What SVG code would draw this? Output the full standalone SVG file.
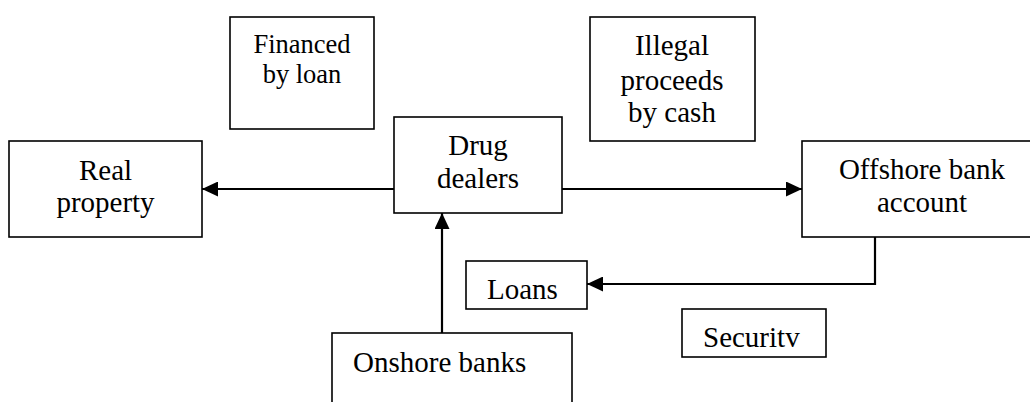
<svg xmlns="http://www.w3.org/2000/svg" width="1030" height="402" viewBox="0 0 1030 402">
<style>
.box{fill:#fff;stroke:#000;stroke-width:1.6}
.t{font-family:"Liberation Serif","Times New Roman",serif;font-size:29px;fill:#000}
.s{font-size:26.5px}
.c{text-anchor:middle}
.ln{fill:none;stroke:#000;stroke-width:2.2}
</style>
<defs>
<marker id="ah" markerUnits="userSpaceOnUse" markerWidth="17" markerHeight="15" refX="16" refY="7.5" orient="auto">
<path d="M0,0 L16,7.5 L0,15 Z" fill="#000"/>
</marker>
</defs>
<rect width="1030" height="402" fill="#fff"/>
<g id="financed">
<rect class="box" x="230" y="17" width="144" height="112"/>
<text class="t s c" x="302" y="53">Financed</text>
<text class="t s c" x="302" y="83">by loan</text>
</g>
<g id="illegal">
<rect class="box" x="590" y="17" width="165" height="124"/>
<text class="t c" x="672" y="55">Illegal</text>
<text class="t c" x="672" y="90">proceeds</text>
<text class="t c" x="672" y="122">by cash</text>
</g>
<g id="real-property">
<rect class="box" x="9" y="141" width="193" height="96"/>
<text class="t c" x="105.5" y="180">Real</text>
<text class="t c" x="105.5" y="212">property</text>
</g>
<g id="drug-dealers">
<rect class="box" x="394" y="117" width="168" height="96"/>
<text class="t c" x="478" y="155">Drug</text>
<text class="t c" x="478" y="188">dealers</text>
</g>
<g id="offshore">
<rect class="box" x="802" y="141" width="240" height="96"/>
<text class="t c" x="922" y="179">Offshore bank</text>
<text class="t c" x="922" y="212">account</text>
</g>
<g id="loans">
<rect class="box" x="466" y="261" width="121" height="48"/>
<text class="t" x="487" y="299">Loans</text>
</g>
<g id="security">
<rect class="box" x="682" y="309" width="144" height="48"/>
<text class="t" x="703" y="347">Securitv</text>
</g>
<g id="onshore">
<rect class="box" x="332" y="333" width="240" height="80"/>
<text class="t" x="353" y="372">Onshore banks</text>
</g>
<g id="connectors">
<line class="ln" x1="394" y1="189" x2="202" y2="189" marker-end="url(#ah)"/>
<line class="ln" x1="562" y1="189" x2="802" y2="189" marker-end="url(#ah)"/>
<line class="ln" x1="442" y1="333" x2="442" y2="213" marker-end="url(#ah)"/>
<polyline class="ln" points="875,237 875,284 587,284" marker-end="url(#ah)"/>
</g>
</svg>
